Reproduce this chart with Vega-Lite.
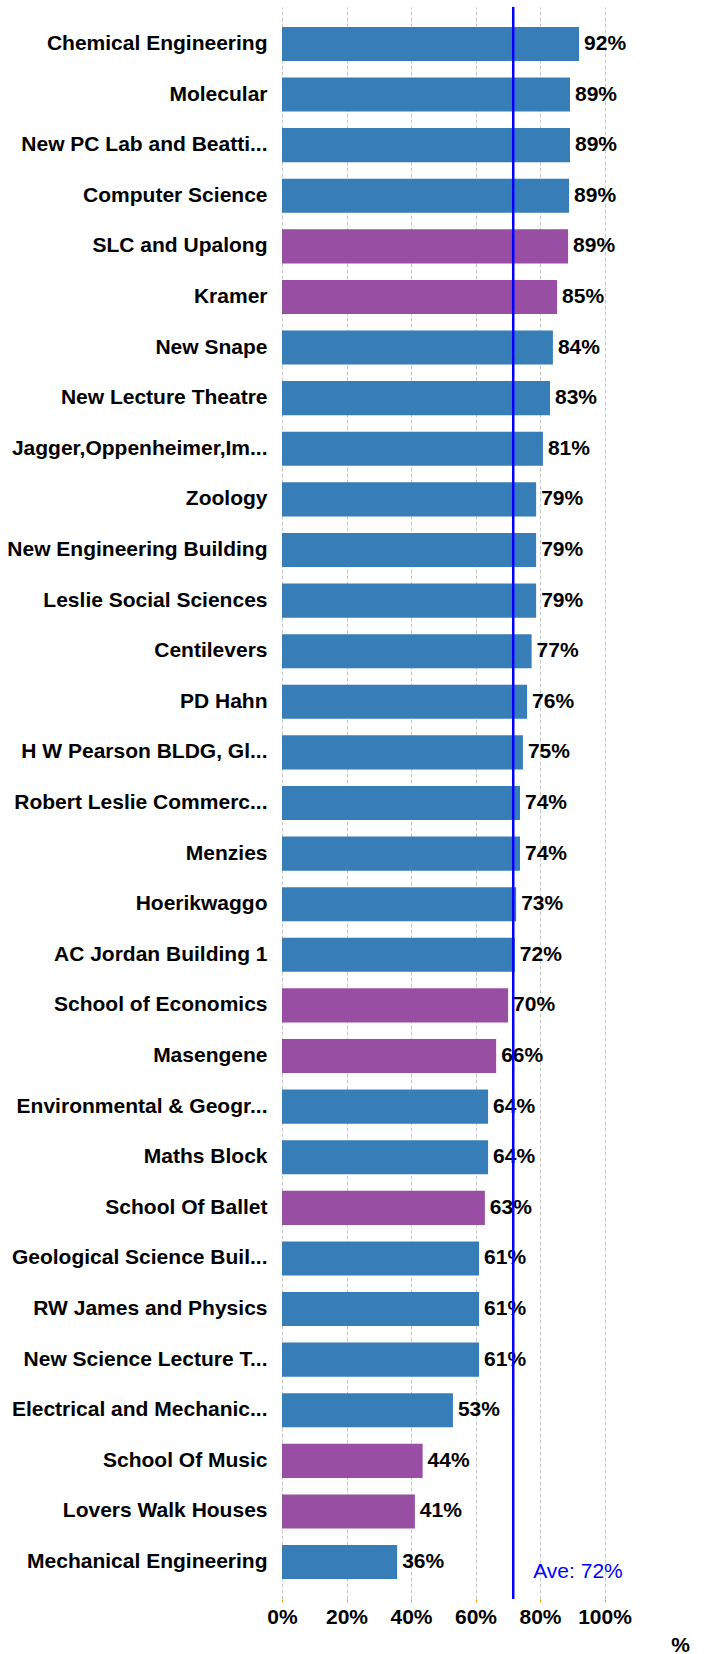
{
  "$schema": "https://vega.github.io/schema/vega-lite/v6.json",
  "width": 322.5,
  "height": 1592,
  "autosize": {"type": "none"},
  "padding": {"left": 282, "top": 7, "right": 99.5, "bottom": 55},
  "datasets": {
    "rooms": [
      {"building": "Chemical Engineering", "share": 0.921, "group": "A"},
      {"building": "Molecular", "share": 0.893, "group": "A"},
      {"building": "New PC Lab and Beatti...", "share": 0.893, "group": "A"},
      {"building": "Computer Science", "share": 0.89, "group": "A"},
      {"building": "SLC and Upalong", "share": 0.887, "group": "B"},
      {"building": "Kramer", "share": 0.853, "group": "B"},
      {"building": "New Snape", "share": 0.84, "group": "A"},
      {"building": "New Lecture Theatre", "share": 0.831, "group": "A"},
      {"building": "Jagger,Oppenheimer,Im...", "share": 0.809, "group": "A"},
      {"building": "Zoology", "share": 0.788, "group": "A"},
      {"building": "New Engineering Building", "share": 0.788, "group": "A"},
      {"building": "Leslie Social Sciences", "share": 0.788, "group": "A"},
      {"building": "Centilevers", "share": 0.774, "group": "A"},
      {"building": "PD Hahn", "share": 0.76, "group": "A"},
      {"building": "H W Pearson BLDG, Gl...", "share": 0.747, "group": "A"},
      {"building": "Robert Leslie Commerc...", "share": 0.738, "group": "A"},
      {"building": "Menzies", "share": 0.738, "group": "A"},
      {"building": "Hoerikwaggo", "share": 0.726, "group": "A"},
      {"building": "AC Jordan Building 1", "share": 0.722, "group": "A"},
      {"building": "School of Economics", "share": 0.701, "group": "B"},
      {"building": "Masengene", "share": 0.664, "group": "B"},
      {"building": "Environmental & Geogr...", "share": 0.639, "group": "A"},
      {"building": "Maths Block", "share": 0.639, "group": "A"},
      {"building": "School Of Ballet", "share": 0.629, "group": "B"},
      {"building": "Geological Science Buil...", "share": 0.611, "group": "A"},
      {"building": "RW James and Physics", "share": 0.611, "group": "A"},
      {"building": "New Science Lecture T...", "share": 0.611, "group": "A"},
      {"building": "Electrical and Mechanic...", "share": 0.53, "group": "A"},
      {"building": "School Of Music", "share": 0.436, "group": "B"},
      {"building": "Lovers Walk Houses", "share": 0.412, "group": "B"},
      {"building": "Mechanical Engineering", "share": 0.357, "group": "A"}
    ],
    "average": [
      {"ave": 0.717, "note": "Ave: 72%"}
    ]
  },
  "layer": [
    {
      "data": {"name": "rooms"},
      "mark": {"type": "bar"},
      "encoding": {
        "y": {
          "field": "building",
          "type": "nominal",
          "sort": null,
          "title": null,
          "scale": {"paddingInner": 0.326, "paddingOuter": 0.393}
        },
        "x": {
          "field": "share",
          "type": "quantitative",
          "title": "%",
          "scale": {"domain": [0, 1]},
          "axis": {
            "values": [0, 0.2, 0.4, 0.6, 0.8, 1],
            "format": ".0%",
            "labelOverlap": false,
            "labelFlush": false,
            "labelBound": false
          }
        },
        "color": {
          "field": "group",
          "type": "nominal",
          "scale": {"domain": ["A", "B"], "range": ["#377eb8", "#984ea3"]},
          "legend": null
        }
      }
    },
    {
      "data": {"name": "rooms"},
      "mark": {
        "type": "text",
        "align": "left",
        "baseline": "middle",
        "dx": 5,
        "fontSize": 21,
        "fontWeight": "bold",
        "color": "#000000"
      },
      "encoding": {
        "y": {"field": "building", "type": "nominal", "sort": null, "title": null},
        "x": {"field": "share", "type": "quantitative", "title": "%"},
        "text": {"field": "share", "type": "quantitative", "format": ".0%"}
      }
    },
    {
      "data": {"name": "average"},
      "mark": {"type": "rule", "color": "#0000ff", "strokeWidth": 2.5},
      "encoding": {
        "x": {"field": "ave", "type": "quantitative", "title": "%"}
      }
    },
    {
      "data": {"name": "average"},
      "mark": {
        "type": "text",
        "align": "left",
        "baseline": "middle",
        "dx": 20,
        "dy": 10,
        "fontSize": 21,
        "color": "#0000ff"
      },
      "encoding": {
        "x": {"field": "ave", "type": "quantitative", "title": "%"},
        "y": {"datum": "Mechanical Engineering"},
        "text": {"field": "note"}
      }
    }
  ],
  "config": {
    "font": "Liberation Sans",
    "view": {"stroke": null},
    "axisX": {
      "domain": false,
      "grid": true,
      "gridColor": "#c8c8c8",
      "gridDash": [4, 2],
      "gridWidth": 1,
      "tickColor": "#ffa500",
      "tickSize": 3,
      "labelPadding": 4,
      "labelFontSize": 21,
      "labelFontWeight": "bold",
      "labelColor": "#000000",
      "titleFontSize": 21,
      "titleFontWeight": "bold",
      "titleColor": "#000000",
      "titleX": 398,
      "titleY": 46,
      "titleAlign": "center",
      "titleBaseline": "middle"
    },
    "axisY": {
      "domain": false,
      "ticks": false,
      "grid": false,
      "labelPadding": 15,
      "labelFontSize": 21,
      "labelFontWeight": "bold",
      "labelColor": "#000000",
      "labelLimit": 400
    }
  }
}
